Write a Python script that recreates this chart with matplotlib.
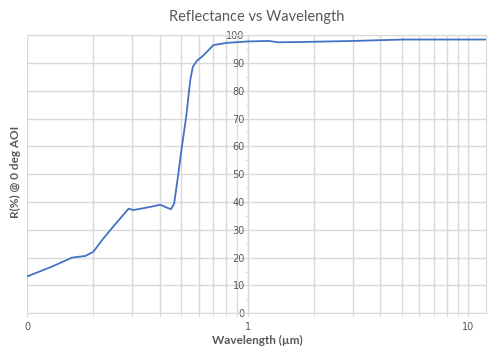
import numpy as np
import matplotlib.pyplot as plt
from matplotlib.ticker import FixedLocator, FixedFormatter, NullFormatter

# Reflectance curve (wavelength in um, R in %)
wavelength = [0.10, 0.13, 0.16, 0.184, 0.20, 0.22, 0.25, 0.289, 0.304, 0.35, 0.402,
              0.43, 0.45, 0.465, 0.479, 0.504, 0.527, 0.55, 0.565, 0.59, 0.625,
              0.655, 0.70, 0.806, 1.0, 1.245, 1.38, 2.0, 3.02, 5.1, 8.0, 12.0]
reflectance = [13.2, 16.8, 20.0, 20.6, 22.1, 26.5, 31.8, 37.6, 37.1, 38.0, 39.0,
               38.0, 37.4, 39.5, 46.7, 59.9, 70.6, 83.8, 88.6, 90.8, 92.4,
               94.0, 96.4, 97.2, 97.7, 97.9, 97.4, 97.6, 97.9, 98.4, 98.4, 98.4]

x_ticks = [0.1, 1, 10]
x_tick_labels = ["0", "1", "10"]
y_ticks = [0, 10, 20, 30, 40, 50, 60, 70, 80, 90, 100]

grid_col = "#D9D9D9"
text_col = "#595959"

fig = plt.figure(figsize=(5, 3.58), dpi=100)
ax = fig.add_axes([0.054, 0.125, 0.917, 0.777])

ax.plot(wavelength, reflectance, color="#4472C4", lw=1.3, zorder=3)

ax.set_xscale("log")
ax.set_xlim(0.1, 12)
ax.set_ylim(0, 100)

ax.xaxis.set_major_locator(FixedLocator(x_ticks))
ax.xaxis.set_major_formatter(FixedFormatter(x_tick_labels))
ax.xaxis.set_minor_locator(FixedLocator([m * d for d in (0.1, 1) for m in range(2, 10)]))
ax.xaxis.set_minor_formatter(NullFormatter())
ax.set_yticks(y_ticks)
ax.set_yticks(np.arange(5, 100, 10), minor=True)

ax.grid(True, which="both", axis="x", color=grid_col, lw=1)
ax.grid(True, which="major", axis="y", color=grid_col, lw=1)
ax.set_axisbelow(True)

# y axis crosses at wavelength = 1
ax.spines["left"].set_position(("data", 1))
ax.spines["left"].set_color(grid_col)
ax.spines["left"].set_zorder(2)
for s in ("top", "right", "bottom"):
    ax.spines[s].set_color(grid_col)

ax.tick_params(axis="x", which="both", direction="out", length=3, color=grid_col,
               labelsize=7, labelcolor=text_col, pad=3)
ax.tick_params(axis="y", which="major", direction="out", length=3, color=grid_col,
               labelsize=7, labelcolor=text_col, pad=-1)
ax.tick_params(axis="y", which="minor", direction="out", length=2, color=grid_col)

fig.text(0.514, 0.952, "Reflectance vs Wavelength", ha="center", va="center",
         fontsize=10.5, color=text_col, family="Lato")
fig.text(0.514, 0.05, "Wavelength (\u00b5m)", ha="center", va="center",
         fontsize=8.5, color=text_col, fontweight="bold", family="Lato")
fig.text(0.03, 0.52, "R(%) @ 0 deg AOI", ha="center", va="center", rotation=90,
         fontsize=8.5, color=text_col, fontweight="bold", family="Lato")

fig.savefig("out.png", dpi=100)
